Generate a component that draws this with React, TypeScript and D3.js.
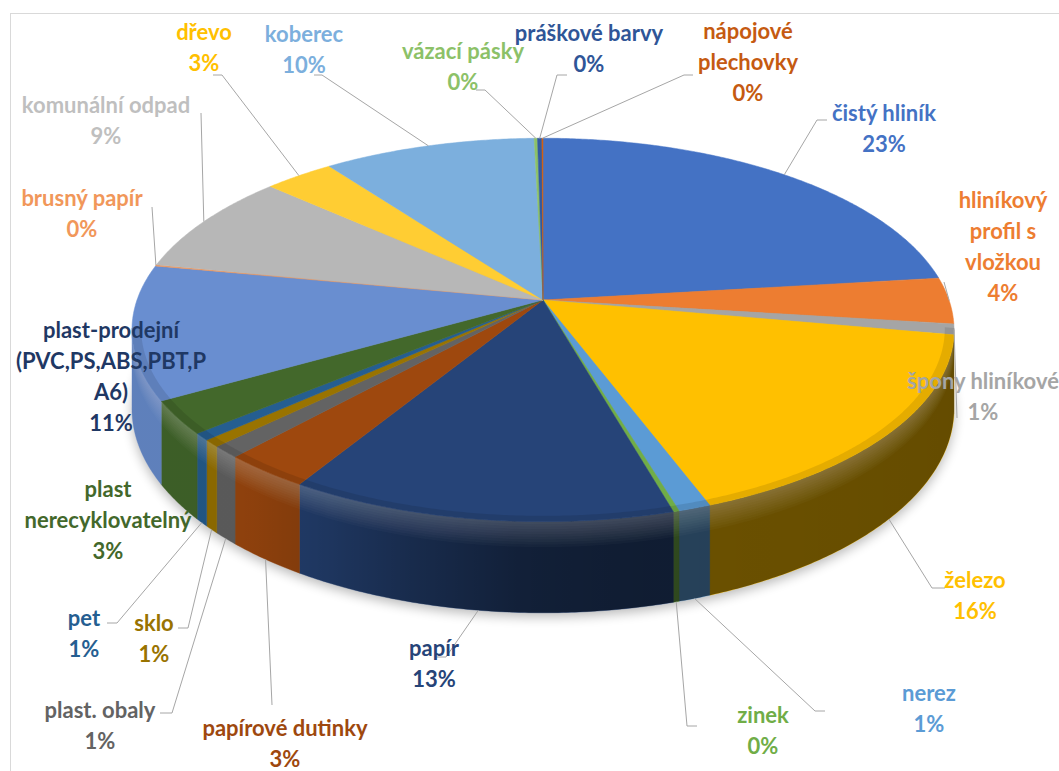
import React from 'react';
import * as d3 from 'd3';

// ---- data ----
const categories = [
  "čistý hliník", "hliníkový profil s vložkou", "špony hliníkové", "železo", "nerez", "zinek",
  "papír", "papírové dutinky", "plast. obaly", "sklo", "pet", "plast nerecyklovatelný",
  "plast-prodejní (PVC,PS,ABS,PBT,PA6)", "brusný papír", "komunální odpad", "dřevo", "koberec",
  "vázací pásky", "práškové barvy", "nápojové plechovky",
];
const values = [23.1, 3.9, 0.9, 16.4, 1.1, 0.2, 13.1, 3.0, 1.0, 0.6, 0.6, 2.8, 11.3, 0.1, 8.6, 3.2, 9.7, 0.15, 0.2, 0.05];
const sliceColors = [
  "#4472C4", "#ED7D31", "#A5A5A5", "#FFC000", "#5B9BD5", "#70AD47", "#264478", "#9E480E", "#636363", "#997300",
  "#255E91", "#43682B", "#698ED0", "#F1975A", "#B7B7B7", "#FFCD33", "#7CAFDD", "#8CC168", "#335AA1", "#D26012",
];
const labelColors = [
  "#4472C4", "#ED7D31", "#A5A5A5", "#FFC000", "#5B9BD5", "#70AD47", "#264478", "#9E480E", "#636363", "#997300",
  "#255E91", "#43682B", "#1F3864", "#F1975A", "#BFBFBF", "#FFC000", "#7CAFDD", "#8CC168", "#2F5597", "#C55A11",
];

// ---- layout (label placement) ----
type Lay = { x: number; y: number; lines: string[]; leader: [number, number][] | null };
const layout: Lay[] = [
  { x: 884, y: 121, lines: ["čistý hliník"], leader: [[827, 120], [817, 120]] },
  { x: 1003, y: 208, lines: ["hliníkový", "profil s", "vložkou"], leader: [[944, 282]] },
  { x: 983, y: 389, lines: ["špony hliníkové"], leader: [[957, 418]] },
  { x: 975, y: 588, lines: ["železo"], leader: [[945, 588], [932, 588]] },
  { x: 929, y: 701, lines: ["nerez"], leader: [[825, 711], [815, 711]] },
  { x: 763, y: 723, lines: ["zinek"], leader: [[697, 726], [687, 726]] },
  { x: 434, y: 656, lines: ["papír"], leader: [[437, 657], [446, 657]] },
  { x: 285, y: 736, lines: ["papírové dutinky"], leader: [[272, 705]] },
  { x: 100, y: 718, lines: ["plast. obaly"], leader: [[160, 713], [172, 713]] },
  { x: 154, y: 631, lines: ["sklo"], leader: [[178, 628], [188, 628]] },
  { x: 84, y: 626, lines: ["pet"], leader: [[107, 623], [117, 623]] },
  { x: 108, y: 497, lines: ["plast", "nerecyklovatelný"], leader: null },
  { x: 111, y: 338, lines: ["plast-prodejní", "(PVC,PS,ABS,PBT,P", "A6)"], leader: null },
  { x: 82, y: 206, lines: ["brusný papír"], leader: [[152, 207]] },
  { x: 106, y: 113, lines: ["komunální odpad"], leader: [[201, 113]] },
  { x: 204, y: 40, lines: ["dřevo"], leader: [[213, 75], [222, 75]] },
  { x: 304, y: 42, lines: ["koberec"], leader: [[314, 75], [322, 75]] },
  { x: 463, y: 59, lines: ["vázací pásky"], leader: [[476, 90], [485, 90]] },
  { x: 589, y: 41, lines: ["práškové barvy"], leader: [[567, 75], [557, 75]] },
  { x: 748, y: 39, lines: ["nápojové", "plechovky"], leader: [[693, 75], [684, 75]] },
];

const W = 1059, Hh = 771;
const CX = 543, CY = 300, RX = 406, RY = 187, K = 0.156, DEPTH = 77;
const LINE_H = 31;

function proj(theta: number, z: number, r = 1): [number, number] {
  const u = Math.sin(theta) * r, v = -Math.cos(theta) * r;
  const s = 1 / (1 - K * v);
  return [CX + RX * u * s, CY + (RY * v + z * DEPTH) * s];
}

const visStart = Math.acos(-K);
const visEnd = 2 * Math.PI - Math.acos(-K);

const shade = d3.scaleLinear<number>()
  .domain([99, 170, 182, 195, 208, 220, 261])
  .range([0.39, 0.42, 0.46, 0.62, 0.8, 0.9, 0.9])
  .clamp(true);

function band(t0: number, t1: number, z0: number, z1: number) {
  const pts: [number, number][] = [];
  const n = Math.max(2, Math.ceil((t1 - t0) / (Math.PI / 360)));
  for (let i = 0; i <= n; i++) pts.push(proj(t0 + ((t1 - t0) * i) / n, z0));
  for (let i = n; i >= 0; i--) pts.push(proj(t0 + ((t1 - t0) * i) / n, z1));
  return d3.line()(pts)! + "Z";
}

export default function App() {
  const total = d3.sum(values);
  const arcs = d3.pie<number>().sort(null).value((d) => d).startAngle(0).endAngle(2 * Math.PI)(values);
  const STEP = Math.PI / 360;

  const topPaths = arcs.map((a) => {
    const pts: [number, number][] = [[CX, CY]];
    const n = Math.max(1, Math.ceil((a.endAngle - a.startAngle) / STEP));
    for (let i = 0; i <= n; i++) pts.push(proj(a.startAngle + ((a.endAngle - a.startAngle) * i) / n, 0));
    return d3.line()(pts)! + "Z";
  });

  const vs = visStart - 0.01, ve = visEnd + 0.01;

  const walls: { d: string; fill: string }[] = [];
  arcs.forEach((a, i) => {
    const s0 = Math.max(a.startAngle, vs);
    const s1 = Math.min(a.endAngle, ve);
    if (s1 <= s0) return;
    walls.push({ d: band(s0, s1, 0, 1), fill: sliceColors[i] });
  });

  const xR = proj(visStart, 0)[0];
  const xL = proj(visEnd, 0)[0];
  const gradStops: { off: number; op: number }[] = [];
  for (let deg = 261; deg >= 99; deg -= 3) {
    const t = (deg * Math.PI) / 180;
    const x = proj(t, 0)[0];
    gradStops.push({ off: Math.min(1, Math.max(0, (x - xL) / (xR - xL))), op: 1 - shade(deg) });
  }

  const wallAll = band(vs, ve, 0, 1);
  // smooth top highlight built from many faint nested bands
  const overlays: { d: string; c: string; o: number }[] = [];
  for (let i = 1; i <= 10; i++) {
    overlays.push({ d: band(vs, ve, 0, 0.028 * i), c: "#fff", o: 0.022 });
  }

  const rimPath = (() => {
    const pts: [number, number][] = [];
    const n = 400;
    for (let i = 0; i <= n; i++) pts.push(proj(vs + ((ve - vs) * i) / n, 0, 1));
    for (let i = n; i >= 0; i--) pts.push(proj(vs + ((ve - vs) * i) / n, 0, 0.978));
    return d3.line()(pts)! + "Z";
  })();

  const shadowPts: [number, number][] = [];
  for (let t = 0; t <= 2 * Math.PI + 0.001; t += STEP * 2) {
    const [x, y] = proj(t, 1);
    shadowPts.push([x, y + 4]);
  }
  const shadowPath = d3.line()(shadowPts)! + "Z";

  const anchor = (a: d3.PieArcDatum<number>): [number, number] => {
    const m = (a.startAngle + a.endAngle) / 2;
    if (m > visStart && m < visEnd) return proj(m, 1);
    return proj(m, 0);
  };

  const fontFamily = "Lato, 'Open Sans', sans-serif";

  return (
    <svg width={W} height={Hh} style={{ position: 'absolute', left: 0, top: 0, background: '#fff' }}>
      <defs>
        <filter id="shadowBlur" x="-20%" y="-20%" width="140%" height="140%">
          <feGaussianBlur stdDeviation="6" />
        </filter>
        <linearGradient id="wallDark" gradientUnits="userSpaceOnUse" x1={xL} y1={0} x2={xR} y2={0}>
          {gradStops.map((s, i) => (
            <stop key={i} offset={s.off} stopColor="#000" stopOpacity={s.op} />
          ))}
        </linearGradient>
      </defs>
      <rect x={10.5} y={13.5} width={1200} height={900} fill="#fff" stroke="#d9d9d9" strokeWidth={1} />
      <path d={shadowPath} fill="#000" opacity={0.28} filter="url(#shadowBlur)" />
      <g>
        {walls.map((w, i) => (
          <path key={i} d={w.d} fill={w.fill} stroke={w.fill} strokeWidth={0.4} />
        ))}
        <path d={wallAll} fill="url(#wallDark)" />
        {overlays.map((o, i) => (
          <path key={'o' + i} d={o.d} fill={o.c} fillOpacity={o.o} />
        ))}
        {topPaths.map((d, i) => (
          <path key={'t' + i} d={d} fill={sliceColors[i]} stroke={sliceColors[i]} strokeWidth={0.5} strokeLinejoin="round" />
        ))}
        <path d={rimPath} fill="#000" fillOpacity={0.1} />
      </g>
      <g fill="none" stroke="#A6A6A6" strokeWidth={1}>
        {layout.map((l, i) =>
          l.leader ? (
            <polyline key={i} points={[...l.leader, anchor(arcs[i])].map((p) => p.join(',')).join(' ')} />
          ) : null
        )}
      </g>
      <g fontFamily={fontFamily} fontWeight={700} fontSize={22} textAnchor="middle">
        {layout.map((l, i) => {
          const pct = Math.round((values[i] / total) * 100) + "%";
          const lines = [...l.lines, pct];
          return (
            <text key={i} fill={labelColors[i]}>
              {lines.map((t, j) => (
                <tspan key={j} x={l.x} y={l.y + j * LINE_H}>{t}</tspan>
              ))}
            </text>
          );
        })}
      </g>
    </svg>
  );
}
